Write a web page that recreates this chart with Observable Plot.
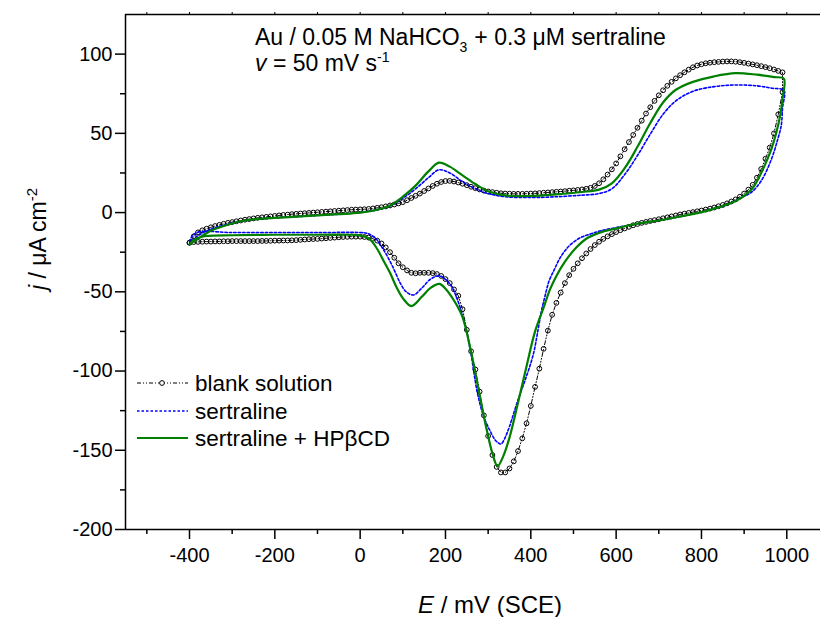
<!DOCTYPE html>
<html><head><meta charset="utf-8">
<script src="https://cdn.jsdelivr.net/npm/d3@7"></script>
<script src="https://cdn.jsdelivr.net/npm/@observablehq/plot@0.6"></script>
<style>html,body{margin:0;padding:0;background:#fff} svg{display:block}</style>
</head><body><div id="chart"></div>
<script>
// ---- tick values ----
const xMajor = [-400, -200, 0, 200, 400, 600, 800, 1000];
const xMinor = [-500, -300, -100, 100, 300, 500, 700, 900];
const xTop = [-500, -400, -300, -200, -100, 0, 100, 200, 300, 400, 500, 600, 700, 800, 900, 1000];
const yMajor = [-200, -150, -100, -50, 0, 50, 100];
const yMinor = [-175, -125, -75, -25, 25, 75];

// ---- series names ----
const seriesNames = ["blank solution", "sertraline", "sertraline + HP\u03b2CD"];

// ---- blank solution (10 mV steps) ----
const blankE = [-400,-390,-380,-370,-360,-350,-340,-330,-320,-310,
 -300,-290,-280,-270,-260,-250,-240,-230,-220,-210,
 -200,-190,-180,-170,-160,-150,-140,-130,-120,-110,
 -100,-90,-80,-70,-60,-50,-40,-30,-20,-10,
 0,10,20,30,40,50,60,70,80,90,
 100,110,120,130,140,150,160,170,180,190,
 200,210,220,230,240,250,260,270,280,290,
 300,310,320,330,340,350,360,370,380,390,
 400,410,420,430,440,450,460,470,480,490,
 500,510,520,530,540,550,560,570,580,590,
 600,610,620,630,640,650,660,670,680,690,
 700,710,720,730,740,750,760,770,780,790,
 800,810,820,830,840,850,860,870,880,890,
 900,910,920,930,940,950,960,970,980,990];
const blankFwd = [-19,-15,-12.5,-11.2,-10.2,-9.3,-8.5,-7.8,-7.1,-6.5,
 -6,-5.5,-5,-4.5,-4.1,-3.7,-3.3,-3,-2.7,-2.4,
 -2.1,-1.8,-1.5,-1.3,-1,-0.8,-0.6,-0.4,-0.2,0,
 0.2,0.4,0.6,0.8,1,1.2,1.4,1.6,1.8,1.9,
 2,2.1,2.3,2.6,3,3.4,3.9,4.5,5.1,5.8,
 6.6,7.8,9.2,10.6,12,13.6,15.2,16.8,18.2,19.3,
 19.9,20,19.6,19,18.2,17.3,16.3,15.4,14.6,13.9,
 13.3,12.9,12.5,12.2,12,11.9,11.8,11.8,11.8,11.9,
 12,12.1,12.3,12.5,12.7,12.9,13.1,13.3,13.5,13.8,
 14,14.3,14.6,15,15.6,16.8,18.5,21,24,27.3,
 31,35.5,40,44.5,49,53.5,58,62.5,66.5,70.5,
 74,77.2,80,82.5,84.7,86.7,88.5,90.2,91.7,92.8,
 93.6,94.2,94.6,94.9,95.1,95.3,95.4,95.4,95.2,94.9,
 94.5,94,93.5,93,92.4,91.8,91.1,90.3,89.4,88.5];
// reverse scan, from 990 down to -400
const blankRev = [76,62,50,41,34,27.5,22,17.5,14.5,12,
 10,8.3,7,5.8,4.8,4,3.2,2.5,1.9,1.3,
 0.8,0.3,-0.2,-0.7,-1.2,-1.8,-2.4,-3,-3.6,-4.2,
 -4.8,-5.3,-5.9,-6.5,-7.2,-8,-9,-10,-11.1,-12.3,
 -13.6,-15,-16.6,-18.4,-20.5,-23,-25.8,-28.8,-32,-35.5,
 -39.5,-44.5,-50.5,-57,-64.5,-74.5,-86,-98.5,-110,-122,
 -133,-142.5,-150.5,-157,-161.5,-164,-164,-160.5,-153,-141,
 -128,-113,-99,-87.5,-74,-61,-52.5,-48.5,-44.5,-42,
 -40,-38.8,-38.2,-38,-38,-38,-38.3,-38,-36.5,-34.5,
 -32,-28.5,-25,-22,-19.5,-17.7,-16.5,-15.8,-15.4,-15.2,
 -15.2,-15.2,-15.3,-15.4,-15.6,-15.8,-16,-16.2,-16.4,-16.6,
 -16.7,-16.8,-17,-17.2,-17.4,-17.5,-17.6,-17.6,-17.7,-17.7,
 -17.8,-17.9,-17.9,-18,-18,-18,-18,-18,-18,-18,
 -18.1,-18.1,-18.2,-18.2,-18.3,-18.3,-18.4,-18.5,-18.6,-19];

// ---- sertraline ----
const sertFwdE = [-400,-385,-350,-320,-280,-240,-200,-150,-100,-50,0,40,70,100,130,160,185,210,240,270,300,340,400,460,520,560,590,620,650,680,710,740,780,830,880,930,965,993];
const sertFwdJ = [-20,-15.5,-10.5,-8,-5.5,-4,-3.3,-2.6,-1.8,-1,0,1.8,4.2,9,15,22,27,25,19.5,15,12,10,9.5,10,11,12,15,24,36,49.5,62,70.5,76.5,79.5,80.5,80,78.5,77];
const sertRevE = [990,987,978,963,940,916,890,860,830,800,750,700,650,600,565,540,515,490,470,455,443,433,425,415,408,400,385,369,350,338,330,318,305,290,275,259,245,228,210,186,165,145,125,108,95,76,56,35,15,0,-100,-200,-300,-385,-400];
const sertRevJ = [66,55,45.5,33,20,12.6,9,5,2.5,0.3,-2.5,-5,-7,-9.5,-11.4,-13.5,-16,-21,-28,-36,-43,-53,-62,-77,-87,-95,-107,-119,-135,-143,-146,-144,-138,-129,-114,-88,-70,-55,-45,-40,-42,-47.5,-52,-50,-45,-34,-24,-16,-13,-12.6,-12.6,-12.6,-12.6,-12.8,-18];

// ---- sertraline + HPbCD ----
const cdFwdE = [-400,-380,-350,-320,-280,-240,-200,-150,-100,-50,0,40,70,100,130,160,185,210,240,270,300,340,400,460,520,560,590,620,650,680,710,740,780,830,880,930,970,993];
const cdFwdJ = [-20,-16.5,-11.5,-8.5,-5.5,-4,-3.3,-2.6,-1.8,-1,0,1.8,4.5,10,17,26,31.5,29,23.5,18,13.5,10.8,10.5,11.5,13,14.5,18.5,28,41.5,56.5,69.5,77.5,82.5,86,88,87,85.5,84.5];
const cdRevE = [990,985,975,965,955,940,920,900,870,830,800,750,700,650,600,560,530,505,480,460,445,430,410,390,370,350,335,322,310,295,280,260,240,220,200,186,165,145,120,100,85,70,56,40,25,10,-20,-100,-200,-300,-360,-385,-400];
const cdRevJ = [72,62,50,41,34,25,15.5,10.5,6,2.5,0.3,-2.5,-5,-7,-10,-12.8,-16.5,-22.5,-31,-40,-48.5,-60,-75,-97,-120,-142,-154,-160,-152,-135,-115,-88,-66,-55.5,-48,-45,-47.5,-53,-59,-54,-47,-38,-31,-23,-17.5,-15,-14,-14,-14,-14.3,-14.8,-16.5,-20];

// ---- build tables ----
const pair = (es, js) => es.map((e, i) => ({E: e, j: js[i]})).filter(d => d.j !== undefined);
const blankRevE = blankE.slice().reverse();
const blank = pair(blankE, blankFwd).concat(pair(blankRevE, blankRev));
const sert = pair(sertFwdE, sertFwdJ).concat(pair(sertRevE, sertRevJ));
const cd = pair(cdFwdE, cdFwdJ).concat(pair(cdRevE, cdRevJ));

const FONT = "'Liberation Sans', Arial, Helvetica, sans-serif";
const blankDash = "4,2,1,2,1,2";
const blueDash = "2.5,2";
const blue = "#0000ff", green = "#008000";

const chart = Plot.plot({
  width: 820, height: 617,
  marginLeft: 125, marginRight: 0, marginTop: 14, marginBottom: 88,
  style: {fontFamily: FONT, background: "#fff", color: "#000"},
  x: {domain: [-550, 1079]},
  y: {domain: [-200, 125]},
  marks: [
    Plot.axisY({anchor: "left", ticks: yMajor, tickSize: 10, tickPadding: 3, fontSize: 20, strokeWidth: 1.5, tickFormat: d => String(d), label: null}),
    Plot.axisY({anchor: "left", ticks: yMinor, tickSize: 5, strokeWidth: 1.5, tickFormat: () => "", label: null}),
    Plot.axisX({anchor: "bottom", ticks: xMajor, tickSize: 10, tickPadding: 8, fontSize: 20, strokeWidth: 1.5, tickFormat: d => String(d), label: null}),
    Plot.axisX({anchor: "bottom", ticks: xMinor, tickSize: 5, strokeWidth: 1.5, tickFormat: () => "", label: null}),
    Plot.axisX({anchor: "top", ticks: xTop, tickSize: 3, strokeWidth: 1, tickFormat: () => "", label: null}),
    Plot.ruleX([-550], {stroke: "#000", strokeWidth: 1.5}),
    Plot.ruleY([-200], {stroke: "#000", strokeWidth: 1.5}),
    Plot.ruleY([125], {stroke: "#000", strokeWidth: 1.5}),
    Plot.line(blank, {x: "E", y: "j", stroke: "#000", strokeWidth: 1, strokeDasharray: blankDash}),
    Plot.dot(blank, {x: "E", y: "j", r: 2.4, stroke: "#000", strokeWidth: 1, fill: "none"}),
    Plot.line(sert, {x: "E", y: "j", stroke: blue, strokeWidth: 1.6, strokeDasharray: blueDash, curve: "catmull-rom"}),
    Plot.line(cd, {x: "E", y: "j", stroke: green, strokeWidth: 2.2, curve: "catmull-rom"})
  ]
});
document.getElementById("chart").appendChild(chart);

const svg = d3.select(chart);
const g = svg.append("g").attr("font-family", FONT).attr("fill", "#000").attr("text-anchor", "start");

// annotation
const t1 = g.append("text").attr("x", 255).attr("y", 45).attr("font-size", 23);
t1.append("tspan").text("Au / 0.05 M NaHCO");
t1.append("tspan").attr("font-size", 14).attr("dy", 7).text("3");
t1.append("tspan").attr("dy", -7).attr("dx", 7).text("+ 0.3 \u03bcM sertraline");
const t2 = g.append("text").attr("x", 255).attr("y", 71).attr("font-size", 23);
t2.append("tspan").attr("font-style", "italic").text("v");
t2.append("tspan").text(" = 50 mV s");
t2.append("tspan").attr("font-size", 14).attr("dy", -9).text("-1");

// axis labels
const xl = g.append("text").attr("x", 418).attr("y", 613).attr("font-size", 24);
xl.append("tspan").attr("font-style", "italic").text("E");
xl.append("tspan").text(" / mV (SCE)");
const yl = g.append("text").attr("transform", "translate(46,290) rotate(-90)").attr("font-size", 23);
yl.append("tspan").attr("font-style", "italic").text("j");
yl.append("tspan").text(" / \u03bcA cm");
yl.append("tspan").attr("font-size", 15).attr("dy", -9).text("-2");

// legend
const legY = [383, 411, 438];
const lg = g.append("g");
lg.append("line").attr("x1", 137).attr("x2", 188).attr("y1", legY[0]).attr("y2", legY[0])
  .attr("stroke", "#000").attr("stroke-width", 1).attr("stroke-dasharray", blankDash);
lg.append("circle").attr("cx", 162).attr("cy", legY[0]).attr("r", 2.4).attr("fill", "#fff").attr("stroke", "#000").attr("stroke-width", 1);
lg.append("line").attr("x1", 137).attr("x2", 188).attr("y1", legY[1]).attr("y2", legY[1])
  .attr("stroke", blue).attr("stroke-width", 1.6).attr("stroke-dasharray", blueDash);
lg.append("line").attr("x1", 137).attr("x2", 188).attr("y1", legY[2]).attr("y2", legY[2])
  .attr("stroke", green).attr("stroke-width", 2.2);
seriesNames.forEach((s, i) => {
  lg.append("text").attr("x", 195).attr("y", legY[i]).attr("dy", "0.36em").attr("font-size", 22.5).text(s);
});
</script>
</body></html>
